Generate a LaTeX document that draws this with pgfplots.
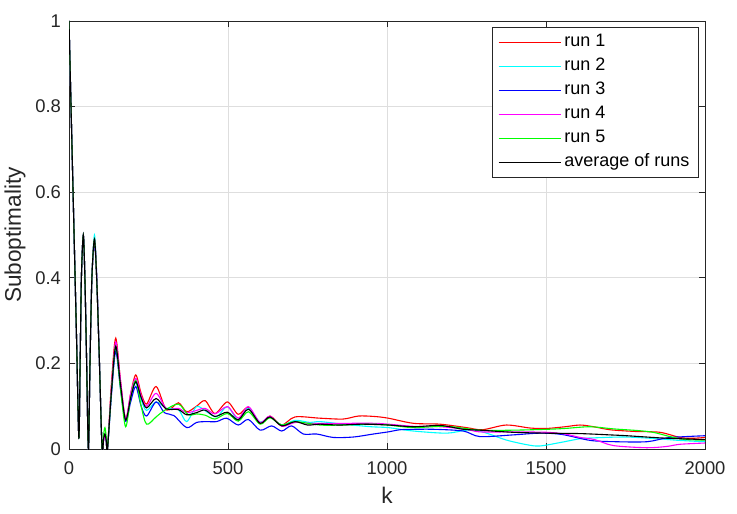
\documentclass[border=0pt]{standalone}
\usepackage{pgfplots}
\pgfplotsset{compat=1.18}
\usepackage{fontspec}
\setmainfont{Liberation Sans}
\definecolor{axgray}{RGB}{38,38,38}
\definecolor{gridgray}{RGB}{222,222,222}
\definecolor{cRed}{RGB}{255,0,0}
\definecolor{cCyan}{RGB}{0,255,255}
\definecolor{cBlue}{RGB}{0,0,255}
\definecolor{cMag}{RGB}{255,0,255}
\definecolor{cGreen}{RGB}{0,255,0}
\definecolor{cBlack}{RGB}{0,0,0}
\begin{document}
\begin{tikzpicture}
\useasboundingbox (-34.5pt,-32pt) rectangle (334pt,224.5pt);
\begin{axis}[
  scale only axis, width=318pt, height=214pt,
  xmin=0, xmax=2000, ymin=0, ymax=1,
  xtick={0,500,1000,1500,2000},
  ytick={0,0.2,0.4,0.6,0.8,1},
  yticklabels={0,0.2,0.4,0.6,0.8,1},
  /pgf/number format/assume math mode=true,
  /pgf/number format/1000 sep={},
  scaled x ticks=false,
  grid=major, major grid style={gridgray, line width=0.4pt},
  axis line style={axgray, line width=0.45pt},
  tick style={axgray, line width=0.45pt}, tick align=inside, major tick length=3pt,
  ticklabel style={font=\fontsize{9.2}{10}\selectfont, text=axgray},
  xticklabel style={yshift=-3pt},
  yticklabel style={xshift=-0.5pt},
  xlabel={k}, ylabel={Suboptimality},
  xlabel style={at={(axis description cs:0.5,-0.108)}, anchor=center, font=\fontsize{11.3}{12}\selectfont, text=axgray},
  ylabel style={at={(axis description cs:-0.085,0.5)}, anchor=center, font=\fontsize{11.3}{12}\selectfont, text=axgray},
  legend style={at={(0.9906,0.9848)}, anchor=north east, draw=axgray, line width=0.4pt, fill=white,
     font=\fontsize{9}{10}\selectfont, row sep=0pt,
     nodes={inner xsep=1.6pt, inner ysep=1.7pt, text height=6.6pt, text depth=2pt},
     inner xsep=3pt, inner ysep=1.25pt},
  legend cell align=left,
  legend image code/.code={\draw[#1, line width=0.6pt] (0pt,0pt) -- (31pt,0pt);},
  every axis plot/.append style={line width=0.55pt, smooth, tension=0.5},
]
% run 1
\addplot[cRed] coordinates {
(0,1) (8,0.75) (16,0.5) (24,0.25) (31,0.026) (35,0.2) (39,0.4) (45,0.5) (50,0.4) (55,0.22) (61,0.0) (66,0.2) (72,0.4) (80,0.49) (87,0.4) (95,0.22) (104,0.0) (109,0.025) (113,0.035) (117,0.02) (121,0.0) (134,0.16) (147,0.259) (162,0.16) (178,0.07) (194,0.13) (210,0.173) (227,0.13) (244,0.105) (274,0.146) (307,0.091) (344,0.108) (370,0.087) (401,0.1) (428,0.113) (459,0.083) (498,0.11) (532,0.081) (564,0.097) (601,0.06) (632,0.077) (669,0.056) (711,0.075) (789,0.072) (862,0.07) (910,0.077) (960,0.076) (1004,0.072) (1083,0.06) (1167,0.058) (1250,0.05) (1300,0.045) (1375,0.056) (1450,0.049) (1502,0.048) (1560,0.052) (1607,0.056) (1650,0.052) (1701,0.045) (1780,0.041) (1858,0.039) (1921,0.027) (1960,0.025) (2000,0.027)};
\addlegendentry{run 1}
% run 2
\addplot[cCyan] coordinates {
(0,1) (8,0.75) (16,0.5) (24,0.25) (31,0.026) (35,0.2) (39,0.4) (45,0.5) (50,0.4) (55,0.22) (61,0.0) (66,0.2) (72,0.4) (80,0.5) (87,0.41) (95,0.22) (104,0.0) (109,0.025) (113,0.035) (117,0.02) (121,0.0) (134,0.14) (147,0.235) (162,0.15) (178,0.068) (194,0.12) (210,0.155) (227,0.115) (244,0.09) (274,0.11) (307,0.095) (344,0.092) (370,0.064) (401,0.099) (431,0.088) (464,0.075) (498,0.099) (532,0.068) (564,0.095) (601,0.063) (632,0.075) (669,0.056) (711,0.067) (758,0.062) (789,0.064) (862,0.058) (950,0.052) (1004,0.05) (1083,0.042) (1188,0.037) (1250,0.044) (1300,0.04) (1375,0.021) (1440,0.01) (1480,0.007) (1544,0.015) (1607,0.024) (1650,0.026) (1750,0.028) (1850,0.024) (1921,0.02) (2000,0.017)};
\addlegendentry{run 2}
% run 3
\addplot[cBlue] coordinates {
(0,1) (8,0.75) (16,0.5) (24,0.25) (31,0.026) (35,0.2) (39,0.4) (45,0.5) (50,0.4) (55,0.22) (61,0.0) (66,0.2) (72,0.4) (80,0.48) (87,0.4) (95,0.22) (104,0.0) (109,0.025) (113,0.03) (117,0.02) (121,0.0) (134,0.13) (147,0.228) (162,0.14) (178,0.065) (194,0.11) (210,0.146) (227,0.1) (244,0.077) (274,0.11) (300,0.085) (330,0.078) (370,0.05) (401,0.062) (431,0.064) (464,0.064) (496,0.072) (532,0.056) (564,0.069) (601,0.044) (637,0.054) (669,0.042) (700,0.054) (737,0.035) (779,0.035) (831,0.027) (894,0.028) (957,0.035) (1004,0.04) (1041,0.045) (1083,0.046) (1150,0.046) (1240,0.042) (1292,0.029) (1397,0.033) (1480,0.037) (1550,0.034) (1640,0.02) (1720,0.017) (1817,0.017) (1880,0.026) (1940,0.029) (2000,0.031)};
\addlegendentry{run 3}
% run 4
\addplot[cMag] coordinates {
(0,1) (8,0.75) (16,0.5) (24,0.25) (31,0.026) (35,0.2) (39,0.4) (45,0.5) (50,0.4) (55,0.22) (61,0.0) (66,0.2) (72,0.4) (80,0.49) (87,0.41) (95,0.22) (104,0.0) (109,0.02) (113,0.03) (117,0.02) (121,0.0) (134,0.15) (147,0.25) (162,0.16) (178,0.07) (194,0.13) (210,0.165) (227,0.125) (244,0.1) (274,0.13) (307,0.094) (344,0.095) (370,0.085) (401,0.09) (428,0.095) (459,0.082) (498,0.099) (532,0.072) (564,0.099) (601,0.062) (632,0.077) (669,0.053) (711,0.062) (758,0.06) (862,0.06) (960,0.06) (1004,0.058) (1083,0.053) (1167,0.052) (1250,0.046) (1292,0.04) (1400,0.04) (1502,0.039) (1560,0.035) (1607,0.027) (1653,0.022) (1712,0.008) (1817,0.003) (1880,0.006) (1921,0.011) (2000,0.014)};
\addlegendentry{run 4}
% run 5
\addplot[cGreen] coordinates {
(0,1) (8,0.75) (16,0.5) (24,0.25) (31,0.026) (35,0.2) (39,0.4) (45,0.5) (50,0.4) (55,0.22) (61,0.0) (66,0.2) (72,0.4) (80,0.49) (87,0.4) (95,0.22) (104,0.0) (109,0.035) (113,0.05) (117,0.03) (121,0.0) (134,0.14) (147,0.24) (162,0.14) (178,0.052) (194,0.12) (210,0.16) (227,0.1) (244,0.058) (274,0.075) (300,0.09) (344,0.105) (375,0.08) (401,0.082) (428,0.079) (459,0.07) (498,0.083) (532,0.065) (564,0.087) (601,0.058) (632,0.073) (669,0.056) (711,0.064) (789,0.056) (862,0.056) (950,0.058) (1004,0.056) (1083,0.05) (1188,0.053) (1292,0.044) (1397,0.044) (1502,0.046) (1560,0.048) (1638,0.052) (1712,0.047) (1790,0.043) (1837,0.039) (1890,0.029) (1940,0.022) (2000,0.021)};
\addlegendentry{run 5}
% average
\addplot[cBlack] coordinates {
(0,1) (8,0.75) (16,0.5) (24,0.25) (31,0.026) (35,0.2) (39,0.4) (45,0.5) (50,0.4) (55,0.22) (61,0.0) (66,0.2) (72,0.4) (80,0.49) (87,0.4) (95,0.22) (104,0.0) (109,0.025) (113,0.035) (117,0.02) (121,0.0) (134,0.14) (147,0.24) (162,0.15) (178,0.068) (194,0.12) (210,0.157) (227,0.12) (244,0.096) (274,0.118) (305,0.094) (344,0.092) (370,0.08) (401,0.085) (428,0.091) (459,0.076) (498,0.086) (532,0.068) (564,0.093) (601,0.06) (632,0.075) (669,0.054) (711,0.064) (750,0.056) (789,0.058) (850,0.056) (920,0.058) (1004,0.056) (1083,0.052) (1167,0.055) (1240,0.046) (1292,0.044) (1397,0.039) (1502,0.037) (1607,0.036) (1700,0.033) (1754,0.031) (1858,0.026) (1921,0.024) (2000,0.022)};
\addlegendentry{average of runs}
\end{axis}
\end{tikzpicture}
\end{document}
